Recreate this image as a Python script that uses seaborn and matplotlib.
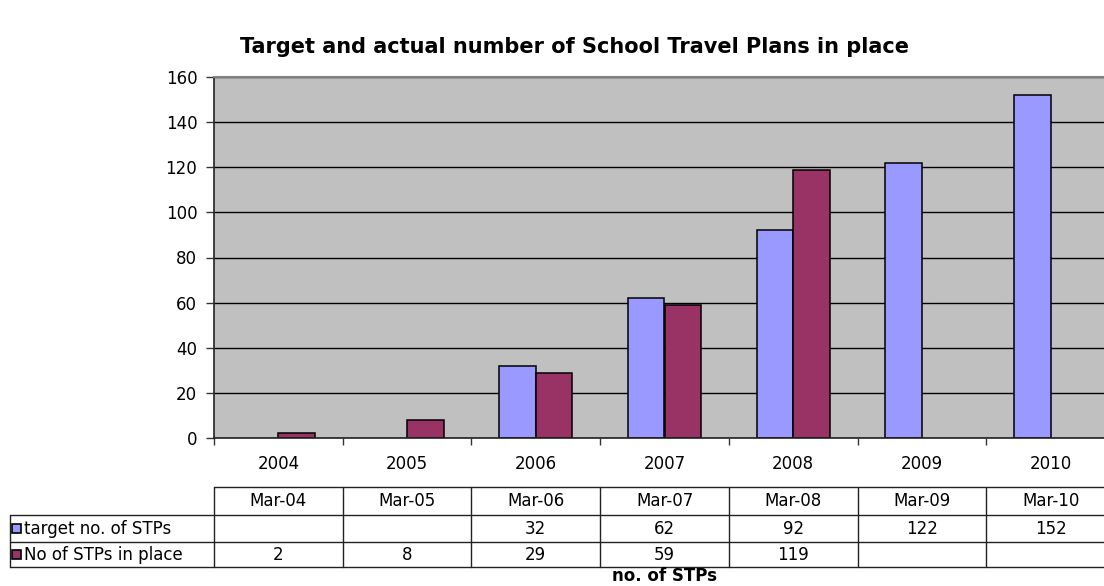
import numpy as np
import pandas as pd
import seaborn as sns
import matplotlib
matplotlib.use("Agg")
import matplotlib.pyplot as plt
from matplotlib.transforms import blended_transform_factory
from matplotlib.patches import Rectangle

# ---- data ----
years = ["2004", "2005", "2006", "2007", "2008", "2009", "2010"]
months = ["Mar-04", "Mar-05", "Mar-06", "Mar-07", "Mar-08", "Mar-09", "Mar-10"]
series = ["target no. of STPs", "No of STPs in place"]
target = [np.nan, np.nan, 32, 62, 92, 122, 152]
actual = [2, 8, 29, 59, 119, np.nan, np.nan]
colors = ["#9999FF", "#993366"]

title = "Target and actual number of School Travel Plans in place"
xlabel = "no. of STPs"
yticks = [0, 20, 40, 60, 80, 100, 120, 140, 160]

rows = []
for s, vals in zip(series, [target, actual]):
    for y, v in zip(years, vals):
        if not np.isnan(v):
            rows.append({"year": y, "series": s, "value": v})
df = pd.DataFrame(rows)

sns.set_style("white")
plt.rcParams["font.family"] = ["DejaVu Sans"]
plt.rcParams["text.color"] = "black"
plt.rcParams["xtick.color"] = "black"
plt.rcParams["ytick.color"] = "black"
plt.rcParams["axes.labelcolor"] = "black"

W, H = 1104, 586
fig = plt.figure(figsize=(W / 100, H / 100), dpi=100)
left, right, top, bottom = 214, 1115, 77, 438
ax = fig.add_axes([left / W, 1 - bottom / H, (right - left) / W, (bottom - top) / H])
ax.set_facecolor("#C0C0C0")

sns.barplot(data=df, x="year", y="value", hue="series", order=years,
            hue_order=series, palette=colors, width=0.57, edgecolor="black",
            linewidth=1.1, errorbar=None, legend=False, ax=ax, saturation=1)

ax.set_xlim(-0.5, len(years) - 0.5)
ax.set_ylim(0, 160)
ax.set_yticks(yticks)
ax.set_yticklabels([str(t) for t in yticks], fontsize=12)
ax.yaxis.grid(True, color="black", linewidth=1)
ax.set_axisbelow(True)
ax.tick_params(axis="y", direction="out", length=6, width=1, pad=6, left=True,
               color="#333333", labelcolor="black")
ax.set_xticks(range(len(years)))
ax.set_xticklabels(years, fontsize=12)
ax.tick_params(axis="x", which="major", length=0, pad=12, labelcolor="black")
ax.set_xticks(np.arange(-0.5, len(years) + 0.5, 1), minor=True)
ax.tick_params(axis="x", which="minor", direction="out", length=5, width=1,
               bottom=True, color="#333333")
ax.set_xlabel("")
ax.set_ylabel("")
for sp in ["left", "bottom"]:
    ax.spines[sp].set_color("#222222")
    ax.spines[sp].set_linewidth(1.2)
ax.spines["top"].set_color("#808080")
ax.spines["top"].set_linewidth(1.5)
ax.spines["right"].set_visible(False)

fig.text(574 / W, 1 - 47 / H, title, ha="center", va="center",
         fontsize=15, fontweight="bold", color="black")

# ---- data table ----
def fy(py):
    return 1 - py / H

trans = blended_transform_factory(ax.transData, fig.transFigure)
lines_y = [487, 515, 542, 567]
n = len(years)
lc = "#222222"
for py in lines_y:
    ax.plot([-0.5, n - 0.5], [fy(py), fy(py)], transform=trans, color=lc,
            lw=1, clip_on=False)
for py in lines_y[1:]:
    fig.add_artist(plt.Line2D([10 / W, left / W], [fy(py), fy(py)],
                              color=lc, lw=1, transform=fig.transFigure))
for i in range(n + 1):
    ax.plot([i - 0.5, i - 0.5], [fy(lines_y[0]), fy(lines_y[-1])],
            transform=trans, color=lc, lw=1, clip_on=False)
fig.add_artist(plt.Line2D([10 / W, 10 / W], [fy(lines_y[1]), fy(lines_y[-1])],
                          color=lc, lw=1, transform=fig.transFigure))

row_centers = [(lines_y[k] + lines_y[k + 1]) / 2 for k in range(3)]
for i, m in enumerate(months):
    ax.text(i, fy(row_centers[0]), m, transform=trans, ha="center",
            va="center", fontsize=12, color="black")
for r, vals in enumerate([target, actual]):
    for i, v in enumerate(vals):
        if not np.isnan(v):
            ax.text(i, fy(row_centers[r + 1]), f"{int(v)}", transform=trans,
                    ha="center", va="center", fontsize=12, color="black")
    cy = row_centers[r + 1]
    fig.add_artist(Rectangle((12 / W, fy(cy + 4.5)), 9 / W, 9 / H,
                             facecolor=colors[r], edgecolor="black", lw=1.2,
                             transform=fig.transFigure))
    fig.text(24 / W, fy(cy), series[r], ha="left", va="center", fontsize=12,
             color="black")

fig.text((left + right) / 2 / W, fy(585), xlabel, ha="center", va="bottom",
         fontsize=12, fontweight="bold", color="black")

fig.savefig("out.png", dpi=100)
